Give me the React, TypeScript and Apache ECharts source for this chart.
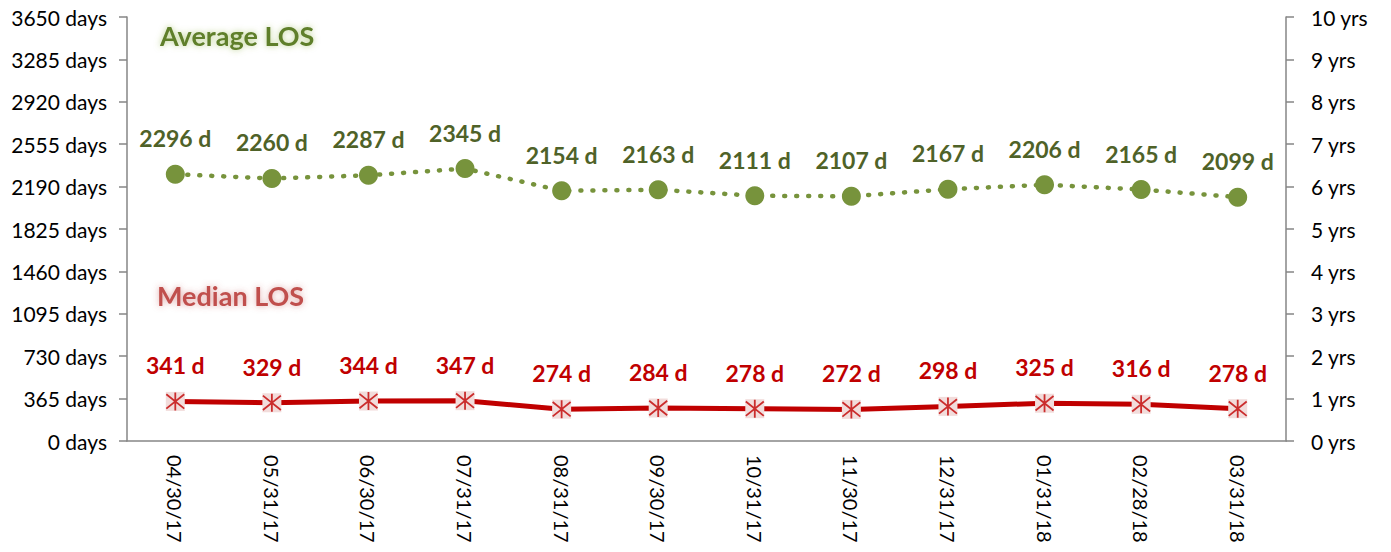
import React, { useEffect, useRef } from "react";
import * as echarts from "echarts";

const categories = ["04/30/17", "05/31/17", "06/30/17", "07/31/17", "08/31/17", "09/30/17", "10/31/17", "11/30/17", "12/31/17", "01/31/18", "02/28/18", "03/31/18"];
const averageLOS = [2296, 2260, 2287, 2345, 2154, 2163, 2111, 2107, 2167, 2206, 2165, 2099];
const medianLOS = [341, 329, 344, 347, 274, 284, 278, 272, 298, 325, 316, 278];
const daysTicks = { min: 0, max: 3650, interval: 365 };
const yrsTicks = { min: 0, max: 10, interval: 1 };

const FONT = "Lato, 'Open Sans', sans-serif";
const AXIS_COLOR = "#868686";
const GREEN = "#77933C";
const GREEN_DARK = "#4F6228";
const RED = "#C00000";

const asterisk = "path://M0,-10 L0,10 M-8,-8 L8,8 M8,-8 L-8,8";

export default function App() {
  const ref = useRef<HTMLDivElement>(null);
  useEffect(() => {
    if (!ref.current) return;
    const chart = echarts.init(ref.current, undefined, { renderer: "svg" });
    chart.setOption({
      animation: false,
      grid: { left: 127, right: 105, top: 17, bottom: 111 },
      xAxis: {
        type: "category",
        data: categories,
        boundaryGap: true,
        axisLine: { lineStyle: { color: AXIS_COLOR, width: 1.5 } },
        axisTick: { length: 7, lineStyle: { color: AXIS_COLOR, width: 1.5 } },
        axisLabel: { rotate: -90, margin: 14, fontSize: 20, color: "#000", fontFamily: FONT },
      },
      yAxis: [
        {
          type: "value",
          ...daysTicks,
          position: "left",
          axisLine: { show: true, lineStyle: { color: AXIS_COLOR, width: 1.5 } },
          axisTick: { show: true, length: 8, lineStyle: { color: AXIS_COLOR, width: 1.5 } },
          splitLine: { show: false },
          axisLabel: { formatter: (v: number) => `${v} days`, fontSize: 21, color: "#000", fontFamily: FONT, margin: 20 },
        },
        {
          type: "value",
          ...yrsTicks,
          position: "right",
          axisLine: { show: true, lineStyle: { color: AXIS_COLOR, width: 1.5 } },
          axisTick: { show: true, length: 8, lineStyle: { color: AXIS_COLOR, width: 1.5 } },
          splitLine: { show: false },
          axisLabel: { formatter: (v: number) => `${v} yrs`, fontSize: 21, color: "#000", fontFamily: FONT, margin: 25 },
        },
      ],
      series: [
        {
          name: "Average LOS",
          type: "line",
          data: averageLOS,
          yAxisIndex: 0,
          symbol: "circle",
          symbolSize: 19,
          itemStyle: { color: GREEN },
          lineStyle: { color: GREEN, width: 4.5, type: [1, 11], cap: "round" },
          label: {
            show: true,
            position: "top",
            distance: 15,
            formatter: (p: any) => `${p.value} d`,
            fontSize: 23,
            fontWeight: "bold",
            color: GREEN_DARK,
            fontFamily: FONT,
          },
          z: 3,
        },
        {
          name: "Median LOS",
          type: "line",
          data: medianLOS,
          yAxisIndex: 0,
          symbol: "rect",
          symbolSize: 19,
          itemStyle: { color: "#F2DCDB" },
          lineStyle: { color: RED, width: 5 },
          label: {
            show: true,
            position: "top",
            distance: 15,
            formatter: (p: any) => `${p.value} d`,
            fontSize: 23,
            fontWeight: "bold",
            color: RED,
            fontFamily: FONT,
          },
          z: 3,
        },
        {
          name: "Median marker",
          type: "scatter",
          data: medianLOS,
          yAxisIndex: 0,
          symbol: asterisk,
          symbolSize: 18,
          itemStyle: { color: "none", borderColor: RED, borderWidth: 1.8 },
          silent: true,
          z: 4,
        },
      ],
      graphic: [
        {
          type: "text",
          left: 160,
          top: 22,
          style: {
            text: "Average LOS",
            fill: "#5F7F2C",
            font: `bold 27px ${FONT}`,
            textShadowColor: "rgba(155,187,89,0.7)",
            textShadowBlur: 6,
          },
        },
        {
          type: "text",
          left: 157,
          top: 282,
          style: {
            text: "Median LOS",
            fill: "#C0504D",
            font: `bold 27px ${FONT}`,
            textShadowColor: "rgba(192,80,77,0.5)",
            textShadowBlur: 6,
          },
        },
      ],
    });
    return () => chart.dispose();
  }, []);
  return <div ref={ref} style={{ width: 1391, height: 552, margin: -8 }} />;
}
